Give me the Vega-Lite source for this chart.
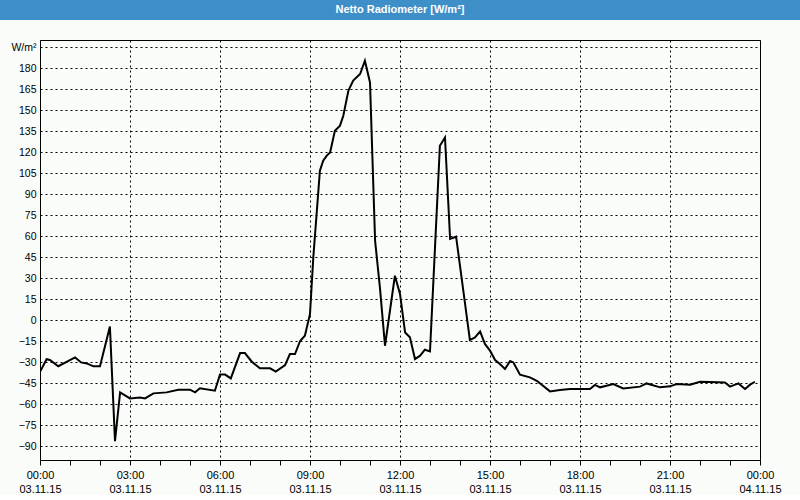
{
  "$schema": "https://vega.github.io/schema/vega-lite/v6.json",
  "padding": 0,
  "background": "#fafcfa",
  "bounds": "flush",
  "spacing": 20,
  "config": {
    "font": "Liberation Sans",
    "view": {"stroke": "black", "strokeWidth": 1}
  },
  "vconcat": [
    {
      "width": 800,
      "height": 20,
      "view": {"fill": "#3e8fc7", "stroke": null},
      "data": {"values": [{"title": "Netto Radiometer [W/m²]"}]},
      "mark": {"type": "text", "color": "white", "fontWeight": "bold", "fontSize": 11, "baseline": "middle", "align": "center"},
      "encoding": {"text": {"field": "title"}}
    },
    {
      "bounds": "flush",
      "spacing": 0,
      "hconcat": [
        {
          "width": 40,
          "height": 420,
          "view": {"fill": null, "stroke": null},
          "data": {"values": []},
          "mark": "rect"
        },
        {
          "width": 720,
          "height": 420,
          "view": {"fill": "#fafcfa", "stroke": "black", "strokeWidth": 1},
          "data": {"values": [
            {"hour": 0.0, "value": -37},
            {"hour": 0.22, "value": -28},
            {"hour": 0.33, "value": -28.6},
            {"hour": 0.61, "value": -33},
            {"hour": 1.17, "value": -26.7},
            {"hour": 1.37, "value": -30.3},
            {"hour": 1.56, "value": -31},
            {"hour": 1.78, "value": -33.1},
            {"hour": 2.0, "value": -33},
            {"hour": 2.33, "value": -4.7},
            {"hour": 2.5, "value": -86.5},
            {"hour": 2.67, "value": -51.7},
            {"hour": 3.0, "value": -56},
            {"hour": 3.33, "value": -55.3},
            {"hour": 3.5, "value": -56},
            {"hour": 3.78, "value": -52.4},
            {"hour": 4.22, "value": -51.7},
            {"hour": 4.61, "value": -49.8},
            {"hour": 5.0, "value": -49.8},
            {"hour": 5.17, "value": -51.7},
            {"hour": 5.33, "value": -48.8},
            {"hour": 5.83, "value": -50.5},
            {"hour": 6.0, "value": -39},
            {"hour": 6.17, "value": -39},
            {"hour": 6.36, "value": -41.7},
            {"hour": 6.67, "value": -23.6},
            {"hour": 6.83, "value": -23.6},
            {"hour": 7.06, "value": -29.8},
            {"hour": 7.33, "value": -34.5},
            {"hour": 7.67, "value": -34.5},
            {"hour": 7.86, "value": -36.9},
            {"hour": 8.17, "value": -32.2},
            {"hour": 8.33, "value": -24.3},
            {"hour": 8.5, "value": -24.3},
            {"hour": 8.67, "value": -15},
            {"hour": 8.83, "value": -11.2},
            {"hour": 9.0, "value": 4.3},
            {"hour": 9.11, "value": 44.7},
            {"hour": 9.33, "value": 106.6},
            {"hour": 9.44, "value": 113.8},
            {"hour": 9.56, "value": 117.4},
            {"hour": 9.67, "value": 119.7},
            {"hour": 9.83, "value": 135.2},
            {"hour": 10.0, "value": 138.8},
            {"hour": 10.11, "value": 145.9},
            {"hour": 10.28, "value": 163.8},
            {"hour": 10.44, "value": 171},
            {"hour": 10.67, "value": 175.7},
            {"hour": 10.83, "value": 185.2},
            {"hour": 11.0, "value": 169.7},
            {"hour": 11.17, "value": 56.6},
            {"hour": 11.33, "value": 23.3},
            {"hour": 11.5, "value": -18.4},
            {"hour": 11.83, "value": 31.6},
            {"hour": 12.0, "value": 18.6},
            {"hour": 12.17, "value": -8.9},
            {"hour": 12.33, "value": -12.4},
            {"hour": 12.5, "value": -27.9},
            {"hour": 12.67, "value": -25.5},
            {"hour": 12.83, "value": -21.2},
            {"hour": 13.0, "value": -22.4},
            {"hour": 13.33, "value": 124.5},
            {"hour": 13.5, "value": 130.4},
            {"hour": 13.67, "value": 57.9},
            {"hour": 13.87, "value": 59.5},
            {"hour": 14.33, "value": -14.3},
            {"hour": 14.5, "value": -12.4},
            {"hour": 14.67, "value": -8.1},
            {"hour": 14.83, "value": -17.1},
            {"hour": 15.0, "value": -21.9},
            {"hour": 15.17, "value": -28.6},
            {"hour": 15.33, "value": -31.4},
            {"hour": 15.5, "value": -35},
            {"hour": 15.67, "value": -29.3},
            {"hour": 15.78, "value": -30.3},
            {"hour": 16.0, "value": -39.1},
            {"hour": 16.33, "value": -41},
            {"hour": 16.56, "value": -43.4},
            {"hour": 17.0, "value": -51},
            {"hour": 17.33, "value": -50},
            {"hour": 17.67, "value": -49.3},
            {"hour": 18.0, "value": -49.3},
            {"hour": 18.33, "value": -49.3},
            {"hour": 18.5, "value": -46.4},
            {"hour": 18.67, "value": -48.1},
            {"hour": 19.11, "value": -45.7},
            {"hour": 19.44, "value": -48.9},
            {"hour": 20.0, "value": -47.6},
            {"hour": 20.22, "value": -45.3},
            {"hour": 20.67, "value": -48.1},
            {"hour": 21.0, "value": -47.4},
            {"hour": 21.22, "value": -45.7},
            {"hour": 21.67, "value": -46.2},
            {"hour": 22.0, "value": -44.1},
            {"hour": 22.33, "value": -44.3},
            {"hour": 22.83, "value": -44.6},
            {"hour": 23.0, "value": -47.6},
            {"hour": 23.28, "value": -45.3},
            {"hour": 23.5, "value": -49.3},
            {"hour": 23.67, "value": -46.2},
            {"hour": 23.83, "value": -44.1}
          ]},
          "mark": {"type": "line", "color": "black", "strokeWidth": 2, "clip": true},
          "encoding": {
            "x": {
              "field": "hour",
              "type": "quantitative",
              "scale": {"domain": [0, 24], "nice": false, "zero": false},
              "axis": {
                "title": null,
                "domain": false,
                "values": [0, 1, 2, 3, 4, 5, 6, 7, 8, 9, 10, 11, 12, 13, 14, 15, 16, 17, 18, 19, 20, 21, 22, 23, 24],
                "tickSize": 5,
                "tickColor": "black",
                "labelOverlap": false,
                "labelFlush": false,
                "labelBound": false,
                "labelFontSize": 11,
                "labelColor": "black",
                "labelPadding": 4,
                "labelLineHeight": 14,
                "labelBaseline": "top",
                "labelExpr": "datum.value % 3 != 0 ? '' : (datum.value == 24 ? ['00:00', '04.11.15'] : [(datum.value < 10 ? '0' : '') + datum.value + ':00', '03.11.15'])",
                "grid": true,
                "gridColor": "black",
                "gridDash": [2, 3],
                "gridOpacity": {"condition": {"test": "datum.value % 3 == 0", "value": 1}, "value": 0}
              }
            },
            "y": {
              "field": "value",
              "type": "quantitative",
              "scale": {"domain": [-100, 200], "nice": false, "zero": false},
              "axis": {
                "title": null,
                "domain": false,
                "ticks": false,
                "values": [-90, -75, -60, -45, -30, -15, 0, 15, 30, 45, 60, 75, 90, 105, 120, 135, 150, 165, 180, 195],
                "labelExpr": "datum.value == 195 ? 'W/m²' : datum.label",
                "labelFontSize": 10.5,
                "labelColor": "black",
                "labelPadding": 4,
                "grid": true,
                "gridColor": "black",
                "gridDash": [2, 3]
              }
            }
          }
        }
      ]
    }
  ]
}
